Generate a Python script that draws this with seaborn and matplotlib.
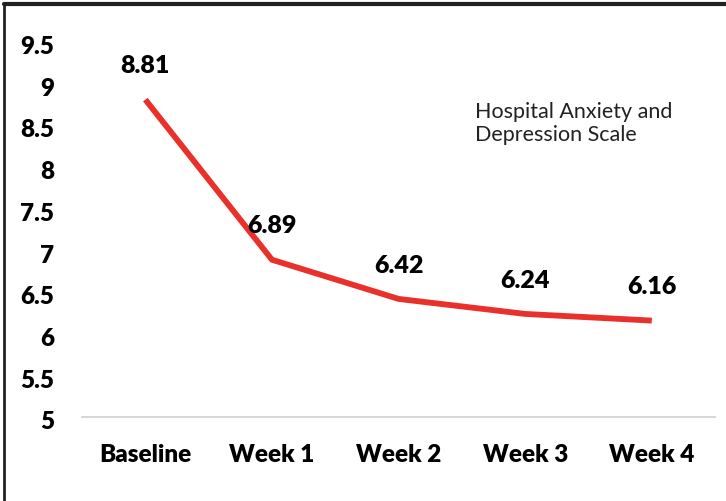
import matplotlib
matplotlib.use("Agg")
import matplotlib.pyplot as plt
import matplotlib.transforms as mtransforms
import seaborn as sns
import pandas as pd
from matplotlib.lines import Line2D

categories = ["Baseline", "Week 1", "Week 2", "Week 3", "Week 4"]
scores = [8.81, 6.89, 6.42, 6.24, 6.16]
y_ticks = [5, 5.5, 6, 6.5, 7, 7.5, 8, 8.5, 9, 9.5]
y_tick_labels = ["5", "5.5", "6", "6.5", "7", "7.5", "8", "8.5", "9", "9.5"]
note = "Hospital Anxiety and\nDepression Scale"

sns.set_theme(style="white")
plt.rcParams["font.family"] = ["Lato", "DejaVu Sans"]

df = pd.DataFrame({"period": categories, "score": scores})

fig = plt.figure(figsize=(7.26, 5.01), dpi=100)
ax = fig.add_axes([0.113, 0.167, 0.872, 0.749])

sns.lineplot(data=df, x="period", y="score", ax=ax, color="#EA302B",
             linewidth=4.2, sort=False, solid_capstyle="butt")

ax.set_xlim(-0.5, len(categories) - 0.5)
ax.set_ylim(5, 9.5)
ax.set_yticks(y_ticks)
ax.set_yticklabels(y_tick_labels, fontsize=17.5, fontweight="heavy", color="black")
ax.set_xticks(range(len(categories)))
ax.set_xticklabels(categories, fontsize=17.5, fontweight="heavy", color="black")
ax.tick_params(axis="y", length=0, pad=20)
ax.tick_params(axis="x", length=0, pad=19)
ax.set_xlabel("")
ax.set_ylabel("")

shift = mtransforms.ScaledTranslation(0, -3 / 100, fig.dpi_scale_trans)
for lbl in ax.get_yticklabels():
    lbl.set_transform(lbl.get_transform() + shift)

for s in ["top", "right", "left"]:
    ax.spines[s].set_visible(False)
ax.spines["bottom"].set_color("#D9D9D9")
ax.spines["bottom"].set_linewidth(1.5)

for i, v in enumerate(scores):
    ax.annotate(f"{v:.2f}", xy=(i, v), xytext=(0, 24), textcoords="offset points",
                ha="center", va="center", fontsize=18, fontweight="heavy",
                color="black", annotation_clip=False)

ax.text(0.620, 0.84, note, transform=ax.transAxes, fontsize=15.5, color="#222222",
        ha="left", va="top", linespacing=1.2)

# outer frame (top and left)
fig.add_artist(Line2D([4 / 726, 1], [1 - 4 / 501, 1 - 4 / 501], transform=fig.transFigure,
                      color="#222222", linewidth=3))
fig.add_artist(Line2D([4 / 726, 4 / 726], [0, 1 - 4 / 501], transform=fig.transFigure,
                      color="#222222", linewidth=2))

fig.savefig("out.png", dpi=100)
